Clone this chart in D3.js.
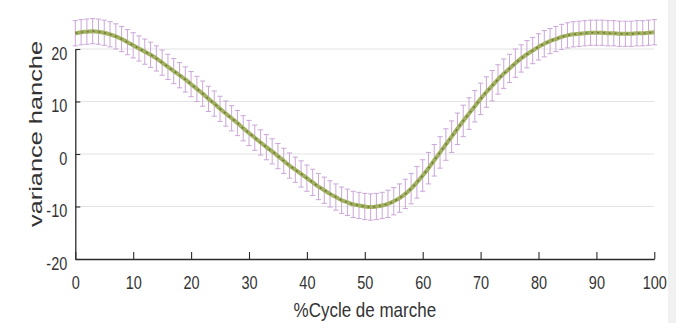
<!DOCTYPE html>
<html>
<head>
<meta charset="utf-8">
<script src="https://cdn.jsdelivr.net/npm/d3@7"></script>
<style>
  html, body { margin: 0; padding: 0; background: #fff; }
  svg { display: block; }
  text { font-family: "Liberation Sans", Arial, sans-serif; fill: #333; }
</style>
</head>
<body>
<svg id="chart" width="676" height="323"></svg>
<script>
// Gait cycle percentage (0..100, one sample per percent)
const cycle = d3.range(0, 101);

// Mean hip angle over the gait cycle
const meanHip = [
  23.0, 23.2, 23.3, 23.4, 23.3, 23.1, 22.8, 22.4, 21.9, 21.3,
  20.7, 20.1, 19.5, 18.9, 18.2, 17.4, 16.6, 15.8, 15.0, 14.2,
  13.3, 12.4, 11.5, 10.5, 9.6, 8.6, 7.7, 6.8, 5.9, 4.9,
  4.0, 3.1, 2.2, 1.3, 0.5, -0.4, -1.3, -2.2, -3.0, -3.8,
  -4.6, -5.4, -6.2, -6.9, -7.6, -8.2, -8.8, -9.2, -9.6, -9.8,
  -10.0, -10.1, -10.0, -9.8, -9.5, -9.0, -8.4, -7.6, -6.6, -5.4,
  -4.1, -2.7, -1.2, 0.3, 1.8, 3.3, 4.8, 6.3, 7.7, 9.1,
  10.5, 11.8, 13.0, 14.2, 15.3, 16.3, 17.3, 18.2, 19.0, 19.7,
  20.4, 21.0, 21.5, 21.9, 22.3, 22.6, 22.8, 22.9, 23.0, 23.1,
  23.1, 23.1, 23.0, 23.0, 22.9, 22.9, 22.9, 23.0, 23.0, 23.1,
  23.2
];

// Standard deviation at each sample
const sdHip = [
  2.4, 2.4, 2.4, 2.4, 2.4, 2.4, 2.4, 2.4, 2.4, 2.4,
  2.4, 2.4, 2.4, 2.4, 2.4, 2.4, 2.4, 2.4, 2.4, 2.4,
  2.4, 2.4, 2.4, 2.4, 2.4, 2.4, 2.4, 2.4, 2.4, 2.4,
  2.4, 2.4, 2.4, 2.4, 2.4, 2.4, 2.4, 2.4, 2.4, 2.5,
  2.5, 2.5, 2.5, 2.5, 2.5, 2.5, 2.5, 2.5, 2.5, 2.5,
  2.5, 2.5, 2.5, 2.5, 2.6, 2.6, 2.7, 2.8, 2.9, 3.0,
  3.0, 3.0, 3.0, 3.0, 3.0, 3.0, 3.0, 3.0, 3.0, 3.0,
  3.0, 2.9, 2.9, 2.8, 2.8, 2.7, 2.7, 2.6, 2.6, 2.5,
  2.5, 2.5, 2.4, 2.4, 2.4, 2.4, 2.4, 2.4, 2.4, 2.4,
  2.4, 2.4, 2.4, 2.4, 2.4, 2.4, 2.4, 2.4, 2.4, 2.4,
  2.4
];

const xTicks = [0, 10, 20, 30, 40, 50, 60, 70, 80, 90, 100];
const yTicks = [-20, -10, 0, 10, 20];
const gridValues = [-10, 0, 10, 20];

const xLabel = "%Cycle de marche";
const yLabel = "variance hanche";

const svg = d3.select("#chart");

// right-hand frame strip
svg.append("rect").attr("x", 668).attr("y", 0).attr("width", 8).attr("height", 323)
  .attr("fill", "#f1f1f1");

const x = d3.scaleLinear().domain([0, 100]).range([75.3, 654.3]);
const y = d3.scaleLinear().domain([-20, 20]).range([259, 49]);

// horizontal grid
svg.append("g").selectAll("line").data(gridValues).join("line")
  .attr("x1", x(0)).attr("x2", x(100))
  .attr("y1", d => y(d)).attr("y2", d => y(d))
  .attr("stroke", "#e3e3e3").attr("stroke-width", 1.2);

// error bars
const eb = svg.append("g").attr("stroke", "#cba6d8").attr("stroke-width", 1).attr("fill", "none");
const cap = 2.6;
cycle.forEach((c, i) => {
  const cx = x(c), lo = y(meanHip[i] - sdHip[i]), hi = y(meanHip[i] + sdHip[i]);
  eb.append("line").attr("x1", cx).attr("x2", cx).attr("y1", lo).attr("y2", hi);
  eb.append("line").attr("x1", cx - cap).attr("x2", cx + cap).attr("y1", lo).attr("y2", lo);
  eb.append("line").attr("x1", cx - cap).attr("x2", cx + cap).attr("y1", hi).attr("y2", hi);
});

// mean curve
const line = d3.line().x((d, i) => x(cycle[i])).y(d => y(d)).curve(d3.curveMonotoneX);
svg.append("path").datum(meanHip).attr("d", line)
  .attr("fill", "none").attr("stroke", "#a2b161").attr("stroke-width", 4);
svg.append("path").datum(meanHip).attr("d", line)
  .attr("fill", "none").attr("stroke", "#6f7d34").attr("stroke-width", 1.6)
  .attr("stroke-dasharray", "2,3.8");

// axes (plain hyphen for negative labels)
const fmt = d => String(d);
const xAxis = d3.axisBottom(x).tickValues(xTicks).tickSize(0).tickFormat(fmt);
const gx = svg.append("g").attr("transform", `translate(0,${y(-20)})`).call(xAxis);
gx.select(".domain").attr("stroke", "#2b2b2b").attr("stroke-width", 1.3);
gx.selectAll(".tick").append("line").attr("y1", 0).attr("y2", -7)
  .attr("stroke", "#2b2b2b").attr("stroke-width", 1.1);
gx.selectAll(".tick text")
  .attr("font-size", 14.5).attr("fill", "#333").attr("dy", null).attr("y", 0)
  .attr("transform", "translate(0,30) scale(1,1.22)");

const yAxis = d3.axisLeft(y).tickValues(yTicks).tickSize(0).tickFormat(fmt);
const gy = svg.append("g").attr("transform", `translate(${x(0)},0)`).call(yAxis);
gy.select(".domain").attr("stroke", "#2b2b2b").attr("stroke-width", 1.3);
gy.selectAll(".tick").append("line").attr("x1", 0).attr("x2", 5)
  .attr("stroke", "#2b2b2b").attr("stroke-width", 1.1);
gy.selectAll(".tick text")
  .attr("font-size", 14.5).attr("fill", "#333").attr("dy", null).attr("x", 0)
  .attr("text-anchor", "end")
  .attr("transform", "translate(-8,10) scale(1,1.22)");
gx.selectAll("text").attr("font-family", "'Liberation Sans', Arial, sans-serif");
gy.selectAll("text").attr("font-family", "'Liberation Sans', Arial, sans-serif");

// axis titles
svg.append("text").text(xLabel)
  .attr("text-anchor", "middle").attr("font-size", 17)
  .attr("transform", `translate(${(x(0) + x(100)) / 2},317) scale(1,1.18)`);

svg.append("text").text(yLabel)
  .attr("text-anchor", "middle").attr("font-size", 18)
  .attr("textLength", 186).attr("lengthAdjust", "spacingAndGlyphs")
  .attr("transform", "translate(42,134) rotate(-90)");
</script>
</body>
</html>
